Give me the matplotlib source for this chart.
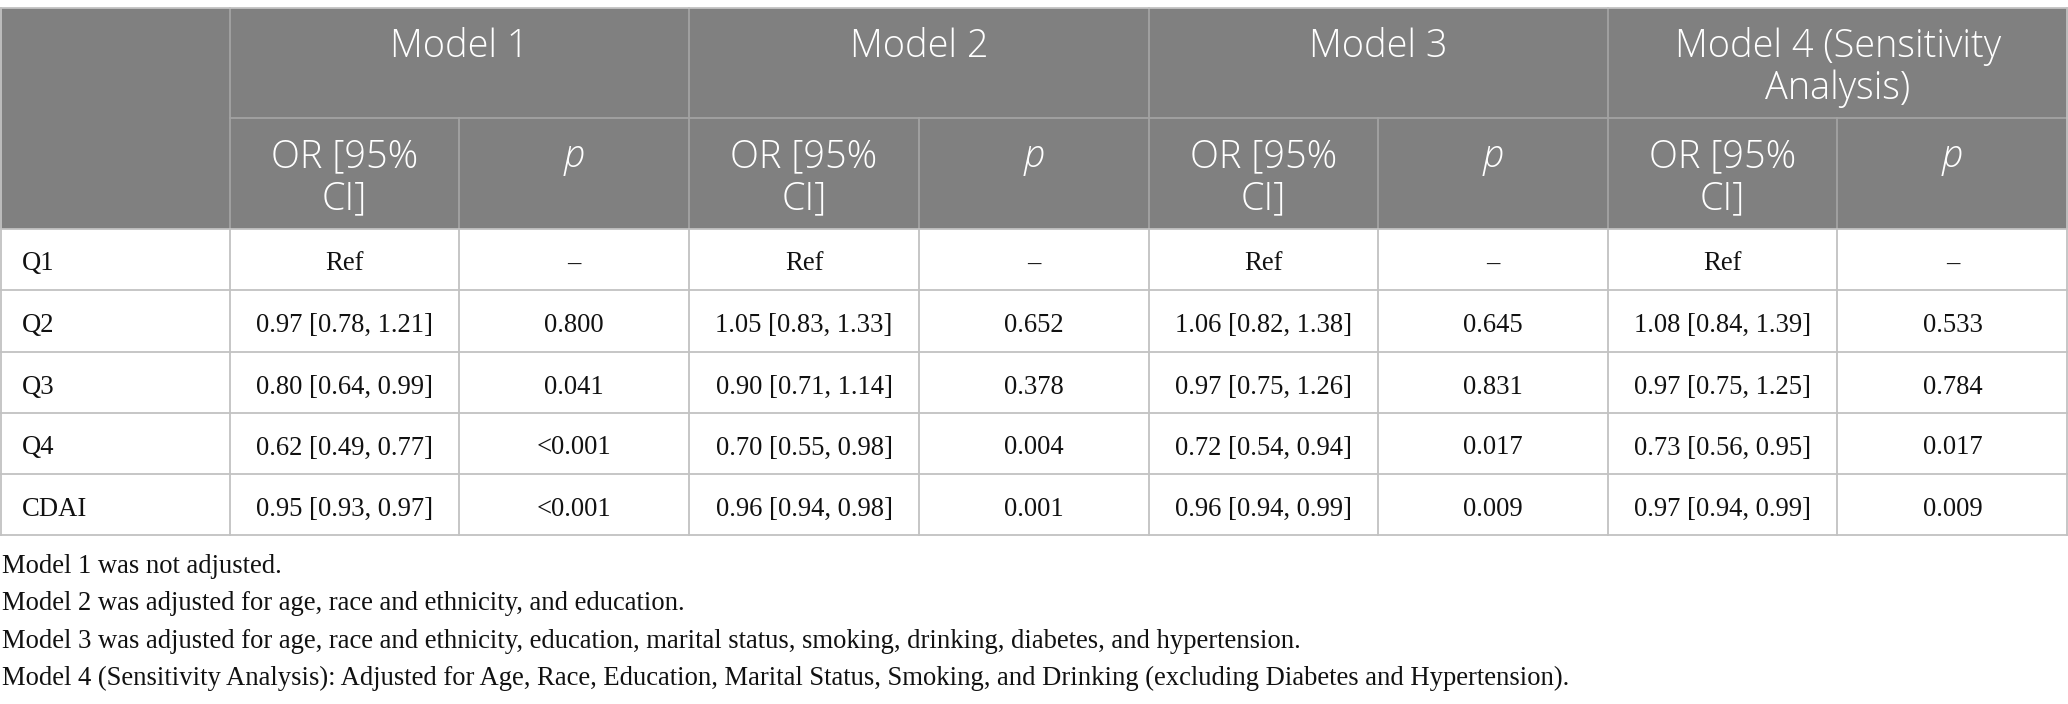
import matplotlib.pyplot as plt
from matplotlib.patches import Rectangle

# table content
models = ['Model 1', 'Model 2', 'Model 3', 'Model 4 (Sensitivity\nAnalysis)']
sub_headers = ['OR [95%\nCI]', 'p']
row_labels = ['Q1', 'Q2', 'Q3', 'Q4', 'CDAI']

or_m1 = ['Ref', '0.97 [0.78, 1.21]', '0.80 [0.64, 0.99]', '0.62 [0.49, 0.77]', '0.95 [0.93, 0.97]']
p_m1 = ['–', '0.800', '0.041', '<0.001', '<0.001']
or_m2 = ['Ref', '1.05 [0.83, 1.33]', '0.90 [0.71, 1.14]', '0.70 [0.55, 0.98]', '0.96 [0.94, 0.98]']
p_m2 = ['–', '0.652', '0.378', '0.004', '0.001']
or_m3 = ['Ref', '1.06 [0.82, 1.38]', '0.97 [0.75, 1.26]', '0.72 [0.54, 0.94]', '0.96 [0.94, 0.99]']
p_m3 = ['–', '0.645', '0.831', '0.017', '0.009']
or_m4 = ['Ref', '1.08 [0.84, 1.39]', '0.97 [0.75, 1.25]', '0.73 [0.56, 0.95]', '0.97 [0.94, 0.99]']
p_m4 = ['–', '0.533', '0.784', '0.017', '0.009']

footnotes = [
    'Model 1 was not adjusted.',
    'Model 2 was adjusted for age, race and ethnicity, and education.',
    'Model 3 was adjusted for age, race and ethnicity, education, marital status, smoking, drinking, diabetes, and hypertension.',
    'Model 4 (Sensitivity Analysis): Adjusted for Age, Race, Education, Marital Status, Smoking, and Drinking (excluding Diabetes and Hypertension).',
]

columns = [or_m1, p_m1, or_m2, p_m2, or_m3, p_m3, or_m4, p_m4]

# layout (pixels)
W, H = 2068, 704
col_x = [0, 230, 459, 689, 919, 1149, 1378, 1608, 1837, 2068]
top, mid, head_bot = 8, 118, 229
row_y = [229, 290, 352, 413, 474, 535]
header_bg = '#808080'
grid_in = '#a3a3a3'
grid_body = '#c2c2c2'

head_font = dict(family='Open Sans', weight='light', color='white', size=27.3)
body_font = dict(family='Liberation Serif', color='#111111', size=19.2)
head_gap = 42


def lines_text(x, y, s, **kw):
    # draw multi-line text one line at a time, baseline spaced by head_gap
    for i, part in enumerate(s.split('\n')):
        ax.text(x, y + i * head_gap, part, ha='center', va='baseline', **kw)


fig = plt.figure(figsize=(W / 100, H / 100), dpi=100)
ax = fig.add_axes([0, 0, 1, 1])
ax.set_xlim(0, W)
ax.set_ylim(H, 0)
ax.axis('off')

# header background
ax.add_patch(Rectangle((0, top), W, head_bot - top, facecolor=header_bg, edgecolor='none'))

# header lines
ax.plot([col_x[1], W], [mid, mid], color=grid_in, lw=1.3)
for i, x in enumerate(col_x[1:-1], start=1):
    y0 = top if i % 2 == 1 else mid
    ax.plot([x, x], [y0, head_bot], color=grid_in, lw=1.3)

# body grid
for y in row_y:
    ax.plot([0, W], [y, y], color=grid_body, lw=1.3)
for x in col_x:
    xx = min(max(x, 0.6), W - 0.6)
    ax.plot([xx, xx], [row_y[0], row_y[-1]], color=grid_body, lw=1.3)
ax.plot([0, W], [top, top], color=grid_body, lw=1.3)
ax.plot([0.6, 0.6], [top, head_bot], color=grid_body, lw=1.3)
ax.plot([W - 0.6, W - 0.6], [top, head_bot], color=grid_body, lw=1.3)

# header text
for k, m in enumerate(models):
    xc = (col_x[1 + 2 * k] + col_x[3 + 2 * k]) / 2
    lines_text(xc, 57, m, **head_font)
    for j, s in enumerate(sub_headers):
        xs = (col_x[1 + 2 * k + j] + col_x[2 + 2 * k + j]) / 2
        style = 'italic' if s == 'p' else 'normal'
        lines_text(xs, 167, s, style=style, **head_font)

# body text
for r, lab in enumerate(row_labels):
    yb = row_y[r] + 41.5
    ax.text(22, yb, lab, ha='left', va='baseline', **body_font)
    for c, col in enumerate(columns):
        xc = (col_x[c + 1] + col_x[c + 2]) / 2
        ax.text(xc, yb, col[r], ha='center', va='baseline', **body_font)

# footnotes
for i, note in enumerate(footnotes):
    ax.text(2, 573 + i * 37.3, note, ha='left', va='baseline', **body_font)

fig.savefig('out.png', dpi=100)
